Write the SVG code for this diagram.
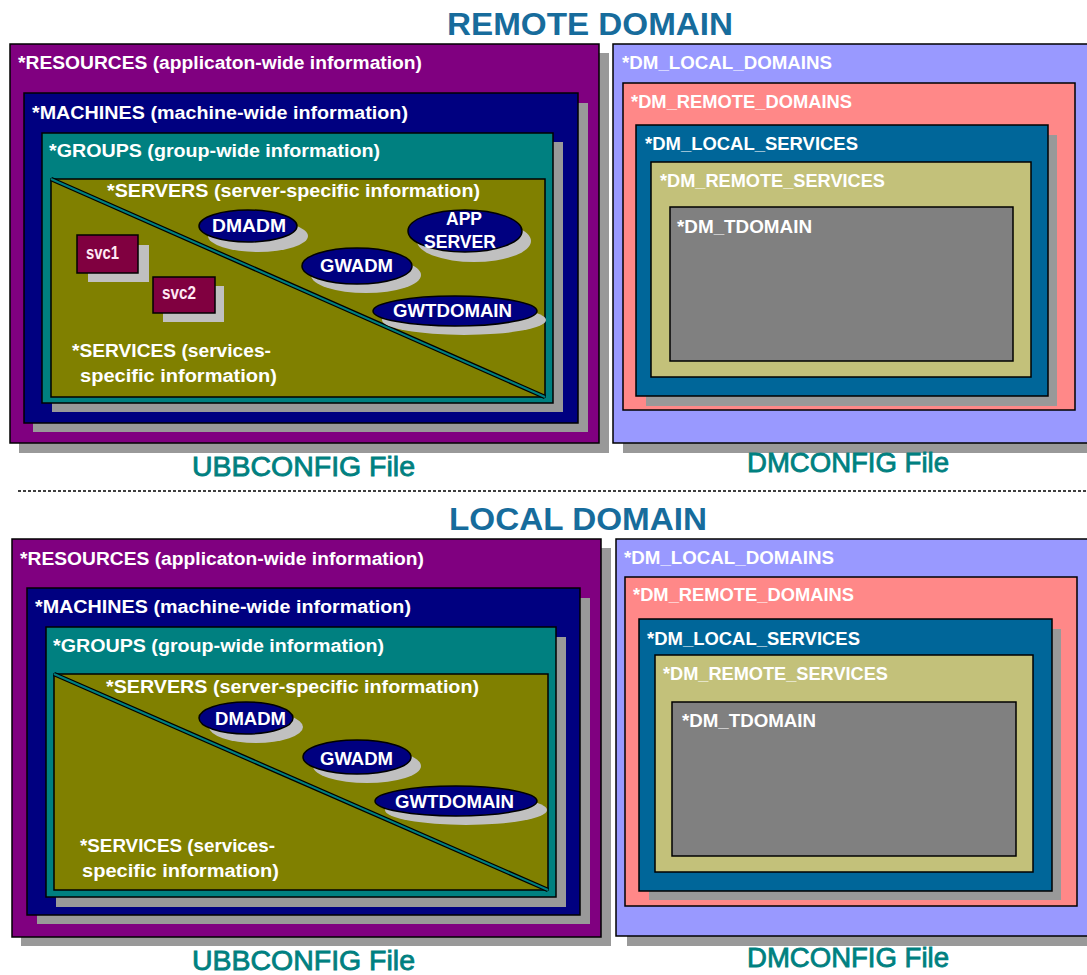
<svg xmlns="http://www.w3.org/2000/svg" width="1087" height="975" viewBox="0 0 1087 975">
<style>
.box{stroke:#000;stroke-width:1.5}
.sh{fill:#999}
.esh{fill:#c0c0c0}
.lbl{font-family:"Liberation Sans",Arial,sans-serif;font-weight:bold;font-size:18px;fill:#fff}
.el{fill:#000080;stroke:#000;stroke-width:1.5}
.elt{font-family:"Liberation Sans",Arial,sans-serif;font-weight:bold;font-size:19px;fill:#fff}
.title{font-family:"Liberation Sans",Arial,sans-serif;font-weight:bold;font-size:32px;fill:#176c9c}
.file{font-family:"Liberation Sans",Arial,sans-serif;font-size:27px;fill:#008080;stroke:#008080;stroke-width:0.8}
.res{fill:#800080}.mac{fill:#000080}.grp{fill:#008080}.srv{fill:#808000}
.ld{fill:#9999ff}.rd{fill:#ff8888}.ls{fill:#006699}.rs{fill:#c3c17a}.td{fill:#808080}
.svc{fill:#800040;stroke:#000;stroke-width:1.5}
.svct{font-family:"Liberation Sans",Arial,sans-serif;font-weight:bold;font-size:18px;fill:#ffe8f4}
</style>
<rect width="1087" height="975" fill="#fff"/>

<!-- REMOTE DOMAIN -->
<g id="remote-title"><text class="title" x="447" y="35" textLength="286" lengthAdjust="spacingAndGlyphs">REMOTE DOMAIN</text></g>

<g id="remote-ubb">
<rect class="sh" x="19" y="53" width="590" height="400"/>
<rect class="box res" x="10" y="44" width="589" height="399"/>
<text class="lbl" x="18" y="69" textLength="404" lengthAdjust="spacingAndGlyphs">*RESOURCES (applicaton-wide information)</text>
<rect class="sh" x="33" y="103" width="555" height="329"/>
<rect class="box mac" x="24" y="93" width="554" height="330"/>
<text class="lbl" x="32" y="119" textLength="376" lengthAdjust="spacingAndGlyphs">*MACHINES (machine-wide information)</text>
<rect class="sh" x="52" y="142" width="511" height="270"/>
<rect class="box grp" x="42" y="133" width="511" height="270"/>
<text class="lbl" x="49" y="157" textLength="331" lengthAdjust="spacingAndGlyphs">*GROUPS (group-wide information)</text>
<rect class="box srv" x="51" y="179" width="494" height="218"/>
<line x1="51" y1="179" x2="545" y2="397" stroke="#000" stroke-width="4.5"/>
<line x1="51" y1="179" x2="545" y2="397" stroke="#008080" stroke-width="2"/>
<text class="lbl" x="107" y="197" textLength="373" lengthAdjust="spacingAndGlyphs">*SERVERS (server-specific information)</text>
<text class="lbl" x="72" y="357" textLength="199" lengthAdjust="spacingAndGlyphs">*SERVICES (services-</text>
<text class="lbl" x="80" y="382" textLength="197" lengthAdjust="spacingAndGlyphs">specific information)</text>
</g>
<g id="remote-svc1"><rect class="esh" x="88" y="245" width="61" height="37"/><rect class="svc" x="77" y="235" width="61" height="38"/><text class="svct" x="86" y="259" textLength="33" lengthAdjust="spacingAndGlyphs">svc1</text></g>
<g id="remote-svc2"><rect class="esh" x="163" y="286" width="61" height="36"/><rect class="svc" x="153" y="277" width="62" height="36"/><text class="svct" x="162" y="299" textLength="34" lengthAdjust="spacingAndGlyphs">svc2</text></g>
<g id="remote-dmadm"><ellipse class="esh" cx="258" cy="236" rx="50" ry="16"/><ellipse class="el" cx="248" cy="226" rx="49" ry="16"/><text class="elt" x="212" y="232" textLength="74" lengthAdjust="spacingAndGlyphs">DMADM</text></g>
<g id="remote-app"><ellipse class="esh" cx="474" cy="241" rx="57" ry="21"/><ellipse class="el" cx="465" cy="231" rx="57" ry="21"/><text class="elt" x="446" y="225" textLength="36" lengthAdjust="spacingAndGlyphs">APP</text><text class="elt" x="424" y="248" textLength="72" lengthAdjust="spacingAndGlyphs">SERVER</text></g>
<g id="remote-gwadm"><ellipse class="esh" cx="366" cy="275" rx="55" ry="18"/><ellipse class="el" cx="357" cy="266" rx="55" ry="18"/><text class="elt" x="320" y="272" textLength="73" lengthAdjust="spacingAndGlyphs">GWADM</text></g>
<g id="remote-gwt"><ellipse class="esh" cx="464" cy="320" rx="82" ry="15"/><ellipse class="el" cx="455" cy="311" rx="82" ry="15"/><text class="elt" x="393" y="317" textLength="119" lengthAdjust="spacingAndGlyphs">GWTDOMAIN</text></g>

<g id="remote-dm">
<rect class="sh" x="623" y="53" width="470" height="400"/>
<rect class="box ld" x="613" y="44" width="480" height="399"/>
<text class="lbl" x="622" y="69" textLength="210" lengthAdjust="spacingAndGlyphs">*DM_LOCAL_DOMAINS</text>
<rect class="box rd" x="623" y="83" width="452" height="327"/>
<text class="lbl" x="631" y="108" textLength="221" lengthAdjust="spacingAndGlyphs">*DM_REMOTE_DOMAINS</text>
<rect class="sh" x="646" y="135" width="411" height="271"/>
<rect class="box ls" x="636" y="125" width="412" height="271"/>
<text class="lbl" x="645" y="150" textLength="213" lengthAdjust="spacingAndGlyphs">*DM_LOCAL_SERVICES</text>
<rect class="box rs" x="651" y="162" width="380" height="215"/>
<text class="lbl" x="660" y="187" textLength="225" lengthAdjust="spacingAndGlyphs">*DM_REMOTE_SERVICES</text>
<rect class="box td" x="670" y="207" width="343" height="154"/>
<text class="lbl" x="677" y="233" textLength="135" lengthAdjust="spacingAndGlyphs">*DM_TDOMAIN</text>
</g>
<g id="remote-files">
<text class="file" x="192" y="476" textLength="223" lengthAdjust="spacingAndGlyphs">UBBCONFIG File</text>
<text class="file" x="747" y="472" textLength="202" lengthAdjust="spacingAndGlyphs">DMCONFIG File</text>
</g>

<g id="separator"><line x1="18" y1="491" x2="1087" y2="491" stroke="#000" stroke-width="1.5" stroke-dasharray="3 2"/></g>

<!-- LOCAL DOMAIN -->
<g id="local-title"><text class="title" x="449" y="530" textLength="258" lengthAdjust="spacingAndGlyphs">LOCAL DOMAIN</text></g>

<g id="local-ubb">
<rect class="sh" x="21" y="548" width="590" height="398"/>
<rect class="box res" x="12" y="539" width="589" height="398"/>
<text class="lbl" x="20" y="565" textLength="404" lengthAdjust="spacingAndGlyphs">*RESOURCES (applicaton-wide information)</text>
<rect class="sh" x="37" y="598" width="553" height="326"/>
<rect class="box mac" x="27" y="588" width="553" height="327"/>
<text class="lbl" x="35" y="613" textLength="376" lengthAdjust="spacingAndGlyphs">*MACHINES (machine-wide information)</text>
<rect class="sh" x="56" y="637" width="510" height="270"/>
<rect class="box grp" x="46" y="627" width="510" height="270"/>
<text class="lbl" x="53" y="652" textLength="331" lengthAdjust="spacingAndGlyphs">*GROUPS (group-wide information)</text>
<rect class="box srv" x="54" y="674" width="494" height="216"/>
<line x1="54" y1="674" x2="548" y2="890" stroke="#000" stroke-width="4.5"/>
<line x1="54" y1="674" x2="548" y2="890" stroke="#008080" stroke-width="2"/>
<text class="lbl" x="106" y="693" textLength="373" lengthAdjust="spacingAndGlyphs">*SERVERS (server-specific information)</text>
<text class="lbl" x="80" y="852" textLength="195" lengthAdjust="spacingAndGlyphs">*SERVICES (services-</text>
<text class="lbl" x="82" y="877" textLength="197" lengthAdjust="spacingAndGlyphs">specific information)</text>
</g>
<g id="local-dmadm"><ellipse class="esh" cx="256" cy="727" rx="47" ry="16"/><ellipse class="el" cx="246" cy="718" rx="47" ry="16"/><text class="elt" x="215" y="725" textLength="71" lengthAdjust="spacingAndGlyphs">DMADM</text></g>
<g id="local-gwadm"><ellipse class="esh" cx="367" cy="766" rx="54" ry="17"/><ellipse class="el" cx="357" cy="757" rx="54" ry="17"/><text class="elt" x="320" y="765" textLength="73" lengthAdjust="spacingAndGlyphs">GWADM</text></g>
<g id="local-gwt"><ellipse class="esh" cx="466" cy="810" rx="81" ry="15"/><ellipse class="el" cx="456" cy="801" rx="81" ry="15"/><text class="elt" x="395" y="808" textLength="119" lengthAdjust="spacingAndGlyphs">GWTDOMAIN</text></g>

<g id="local-dm">
<rect class="sh" x="627" y="548" width="466" height="398"/>
<rect class="box ld" x="616" y="539" width="477" height="397"/>
<text class="lbl" x="624" y="564" textLength="210" lengthAdjust="spacingAndGlyphs">*DM_LOCAL_DOMAINS</text>
<rect class="box rd" x="625" y="577" width="452" height="329"/>
<text class="lbl" x="633" y="601" textLength="221" lengthAdjust="spacingAndGlyphs">*DM_REMOTE_DOMAINS</text>
<rect class="sh" x="649" y="629" width="412" height="271"/>
<rect class="box ls" x="639" y="619" width="413" height="272"/>
<text class="lbl" x="647" y="645" textLength="213" lengthAdjust="spacingAndGlyphs">*DM_LOCAL_SERVICES</text>
<rect class="box rs" x="655" y="655" width="378" height="217"/>
<text class="lbl" x="663" y="680" textLength="225" lengthAdjust="spacingAndGlyphs">*DM_REMOTE_SERVICES</text>
<rect class="box td" x="672" y="702" width="344" height="154"/>
<text class="lbl" x="682" y="727" textLength="134" lengthAdjust="spacingAndGlyphs">*DM_TDOMAIN</text>
</g>
<g id="local-files">
<text class="file" x="192" y="970" textLength="223" lengthAdjust="spacingAndGlyphs">UBBCONFIG File</text>
<text class="file" x="747" y="967" textLength="202" lengthAdjust="spacingAndGlyphs">DMCONFIG File</text>
</g>
</svg>
